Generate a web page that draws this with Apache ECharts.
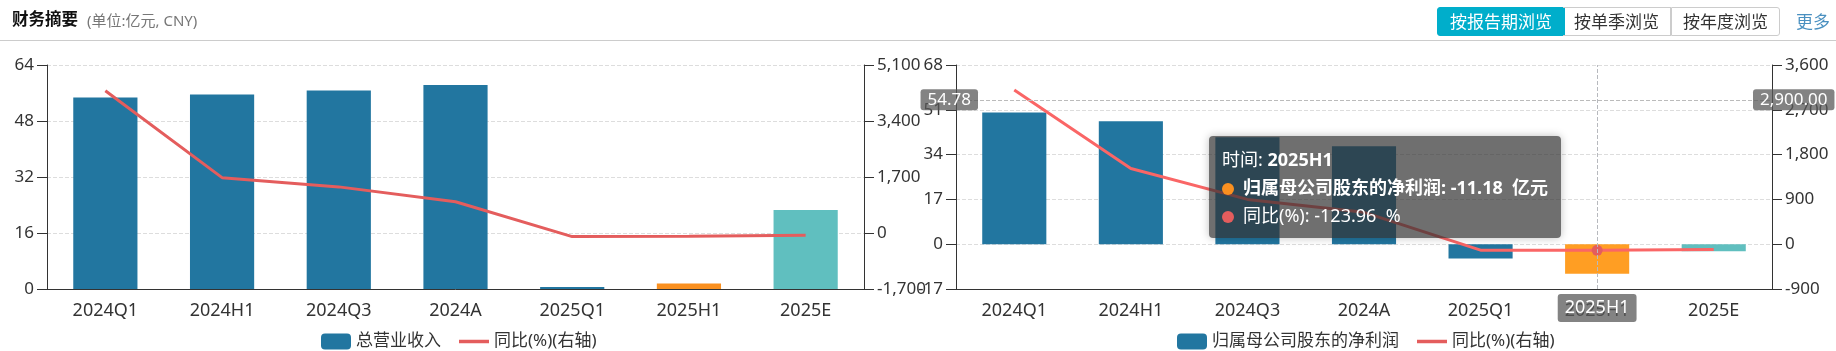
<!DOCTYPE html>
<html>
<head>
<meta charset="utf-8">
<script src="https://cdn.jsdelivr.net/npm/echarts@6/dist/echarts.min.js"></script>
<style>
  html, body { margin: 0; padding: 0; background: #fff; }
  body { width: 1836px; height: 351px; position: relative; overflow: hidden;
    font-family: "Noto Sans", "Noto Sans CJK SC", sans-serif; }
  #chart { position: absolute; left: 0; top: 0; width: 1836px; height: 351px; }
  #head { position: absolute; left: 0; top: 0; width: 1836px; height: 40px; border-bottom: 1px solid #ccc; z-index: 2; }
  .title { position: absolute; left: 12px; top: 6px; font-size: 16.5px; font-weight: bold; color: #111; }
  .unit { position: absolute; left: 87px; top: 9px; font-size: 15px; color: #777; }
  .btn { position: absolute; top: 7px; height: 27px; line-height: 27px; font-size: 17px; color: #333;
    border: 1px solid #ccc; text-align: center; box-sizing: content-box; }
  .btn.on { background: #00aecb; color: #fff; border-color: #00aecb; border-radius: 3px 0 0 3px; }
  .more { position: absolute; left: 1796px; top: 8px; font-size: 17px; color: #4a90c0; }
</style>
</head>
<body>
<div id="head">
  <span class="title">财务摘要</span>
  <span class="unit">(单位:亿元, CNY)</span>
  <span class="btn on" style="left:1437px;width:126px;">按报告期浏览</span>
  <span class="btn" style="left:1563px;width:107px;border-left:none;">按单季浏览</span>
  <span class="btn" style="left:1671px;width:107px;border-left:1px solid #ccc;border-radius:0 3px 3px 0;">按年度浏览</span>
  <span class="more">更多</span>
</div>
<div id="chart"></div>
<script>
// 报告期
const categories = ['2024Q1', '2024H1', '2024Q3', '2024A', '2025Q1', '2025H1', '2025E'];
// 总营业收入 (亿元) 和 同比(%)
const revenue = [54.7, 55.6, 56.7, 58.3, 0.6, 1.6, 22.6];
const revenueYoY = [4320, 1680, 1400, 950, -110, -95, -65];
// 归属母公司股东的净利润 (亿元) 和 同比(%)
const profit = [50.0, 46.7, 40.6, 37.2, -5.4, -11.18, -2.7];
const profitYoY = [3100, 1520, 900, 640, -120, -123.96, -105];

const BLUE = '#2276a0', ORANGE = '#fa9020', TEAL = '#60bfbf', RED = '#e45d5d';
const FONT = '"Noto Sans", "Noto Sans CJK SC", sans-serif';

function barColor(i) {
  if (categories[i] === '2025H1') return ORANGE;
  if (categories[i] === '2025E') return TEAL;
  return BLUE;
}

function fmt2(v) {
  return Number(v).toLocaleString('en-US', { minimumFractionDigits: 2, maximumFractionDigits: 2 });
}

const lineIcon = 'path://M0,0 L30,0 L30,3.5 L0,3.5 Z';

function yAxis(gridIndex, min, max, interval, position, split, pointerMargin) {
  return {
    type: 'value', gridIndex: gridIndex, position: position,
    min: min, max: max, interval: interval,
    axisLine: { show: true, lineStyle: { color: '#333' } },
    axisTick: { show: true, length: 10, lineStyle: { color: '#333' } },
    axisLabel: { fontSize: 17, color: '#333', margin: 13, fontFamily: FONT },
    splitLine: { show: split, lineStyle: { color: '#ddd', type: 'dashed' } },
    axisPointer: { label: { margin: pointerMargin, padding: [2, 7] } }
  };
}

function xAxis(gridIndex) {
  return {
    type: 'category', gridIndex: gridIndex, data: categories,
    axisLine: { onZero: false, lineStyle: { color: '#333' } },
    axisTick: { alignWithLabel: true, length: 10, lineStyle: { color: '#333' } },
    axisLabel: { fontSize: 18, color: '#333', margin: 13, fontFamily: FONT },
    axisPointer: { label: { margin: 5, padding: [5, 7], fontSize: 18 } }
  };
}

const myChart = echarts.init(document.getElementById('chart'));
myChart.setOption({
  animation: false,
  textStyle: { fontFamily: FONT },
  grid: [
    { left: 47, top: 65, width: 817, height: 224 },
    { left: 956, top: 65, width: 816, height: 224 }
  ],
  xAxis: [xAxis(0), xAxis(1)],
  yAxis: [
    yAxis(0, 0, 64, 16, 'left', true, -20),
    yAxis(0, -1700, 5100, 1700, 'right', false, -20),
    yAxis(1, -17, 68, 17, 'left', true, -22),
    yAxis(1, -900, 3600, 900, 'right', false, -19)
  ],
  legend: [
    {
      left: 321, top: 333, padding: 0, itemWidth: 30, itemHeight: 16, itemGap: 18,
      textStyle: { fontSize: 17, color: '#333' },
      data: ['总营业收入', { name: '同比(%)(右轴)', icon: lineIcon }]
    },
    {
      left: 1177, top: 333, padding: 0, itemWidth: 30, itemHeight: 16, itemGap: 18,
      textStyle: { fontSize: 17, color: '#333' },
      data: ['归属母公司股东的净利润', { name: '同比(%)(右轴)', icon: lineIcon }]
    }
  ],
  tooltip: {
    trigger: 'axis',
    transitionDuration: 0,
    backgroundColor: 'rgba(50,50,50,0.7)',
    borderWidth: 0,
    padding: [9, 13],
    extraCssText: 'border-radius:4px;box-shadow:0 0 8px rgba(0,0,0,0.25);',
    textStyle: { color: '#fff', fontSize: 18, lineHeight: 28, fontFamily: FONT },
    axisPointer: {
      type: 'cross',
      crossStyle: { color: '#bbb', type: 'dashed', width: 1 },
      label: {
        backgroundColor: 'rgba(90,90,90,0.75)',
        color: '#fff',
        fontSize: 17,
        fontFamily: FONT,
        borderRadius: 3,
        formatter: function (p) {
          return p.axisDimension === 'x' ? p.value : fmt2(p.value);
        }
      }
    },
    position: function (point, params, dom, rect, size) {
      return [point[0] - size.contentSize[0] - 36, point[1] + 36];
    },
    formatter: function (params) {
      let rows = ['<div style="height:28px;line-height:28px;">时间: <b>' + params[0].axisValue + '</b></div>'];
      params.forEach(function (p) {
        const isBar = p.seriesType === 'bar';
        const dot = '<span style="display:inline-block;width:12px;height:12px;border-radius:6px;margin-right:9px;vertical-align:-1px;background:' + p.color + ';"></span>';
        const val = isBar ? p.value + '&nbsp; 亿元' : p.value + '&nbsp; %';
        const name = p.seriesName === '同比(%)(右轴)' ? '同比(%)' : p.seriesName;
        const text = isBar ? '<b>' + name + ': ' + val + '</b>' : name + ': ' + val;
        rows.push('<div style="height:28px;line-height:28px;white-space:nowrap;">' + dot + text + '</div>');
      });
      return rows.join('');
    }
  },
  series: [
    {
      name: '总营业收入', type: 'bar', xAxisIndex: 0, yAxisIndex: 0, barWidth: '55%',
      itemStyle: { color: BLUE },
      data: revenue.map(function (v, i) { return { value: v, itemStyle: { color: barColor(i) } }; })
    },
    {
      name: '同比(%)(右轴)', type: 'line', xAxisIndex: 0, yAxisIndex: 1,
      showSymbol: false, symbol: 'circle', symbolSize: 11,
      lineStyle: { color: RED, width: 3 }, itemStyle: { color: RED },
      emphasis: { scale: false },
      data: revenueYoY
    },
    {
      name: '归属母公司股东的净利润', type: 'bar', xAxisIndex: 1, yAxisIndex: 2, barWidth: '55%',
      itemStyle: { color: BLUE },
      data: profit.map(function (v, i) { return { value: v, itemStyle: { color: barColor(i) } }; })
    },
    {
      name: '同比(%)(右轴)', type: 'line', xAxisIndex: 1, yAxisIndex: 3,
      showSymbol: false, symbol: 'circle', symbolSize: 11,
      lineStyle: { color: RED, width: 3 }, itemStyle: { color: RED },
      emphasis: { scale: false },
      data: profitYoY
    }
  ]
});

// hover state shown in the reference: 2025H1 on the profit chart
const px = myChart.convertToPixel({ xAxisIndex: 1 }, '2025H1');
const py = myChart.convertToPixel({ yAxisIndex: 3 }, 2900);
myChart.dispatchAction({ type: 'showTip', x: px, y: py });
</script>
</body>
</html>
